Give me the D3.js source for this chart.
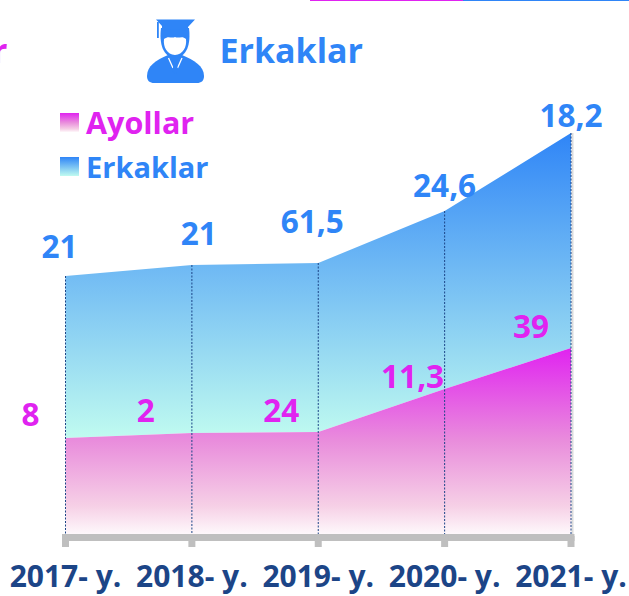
<!DOCTYPE html>
<html><head><meta charset="utf-8">
<script src="https://cdn.jsdelivr.net/npm/d3@7/dist/d3.min.js"></script>
<style>html,body{margin:0;padding:0;background:#fff;overflow:hidden}text{font-family:"Open Sans",sans-serif;font-weight:700}</style>
</head><body><svg id="c" width="629" height="596"></svg>
<script>
const years=["2017- y.","2018- y.","2019- y.","2020- y.","2021- y."];
const ayollarHeight=[96,101,102,145,186];
const erkaklarHeight=[162,168,169,178,215];
const ayollarLabels=["8","2","24","11,3","39"];
const erkaklarLabels=["21","21","61,5","24,6","18,2"];
const pink="#e023f0",blue="#2f85f7",navy="#1c4587";
const svg=d3.select("#c");
const x=d3.scalePoint().domain(years).range([65.5,571]);
const y=d3.scaleLinear().domain([0,401]).range([534,133]);
const defs=svg.append("defs");
function grad(id,stops,y1,y2){const g=defs.append("linearGradient").attr("id",id);
 if(y1!==undefined){g.attr("gradientUnits","userSpaceOnUse").attr("x1",0).attr("x2",0).attr("y1",y1).attr("y2",y2);}else{g.attr("x1",0).attr("x2",0).attr("y1",0).attr("y2",1);}
 stops.forEach(s=>g.append("stop").attr("offset",s[0]).attr("stop-color",s[1]));}
const blueStops=[[0,blue],[1,"#c0fbf0"]],pinkStops=[[0,pink],[0.5,"#e98ddc"],[0.85,"#f6d0e6"],[1,"#fef8fb"]];
grad("gb",blueStops,y(401),y(96));
grad("gp",pinkStops,y(186),y(0));
grad("lb",blueStops);grad("lp",pinkStops);
const stacked=years.map((d,i)=>({d,a:ayollarHeight[i],t:ayollarHeight[i]+erkaklarHeight[i]}));
svg.append("path").datum(stacked).attr("fill","url(#gb)").attr("d",d3.area().x(d=>x(d.d)).y0(d=>y(d.a)).y1(d=>y(d.t)));
svg.append("path").datum(stacked).attr("fill","url(#gp)").attr("d",d3.area().x(d=>x(d.d)).y0(y(0)).y1(d=>y(d.a)));
svg.append("line").attr("x1",x(years[4])+1.5).attr("x2",x(years[4])+1.5).attr("y1",y(401)).attr("y2",y(0)).attr("stroke","#dcdcdc").attr("stroke-width",2);
svg.selectAll(".drop").data(stacked).join("line").attr("x1",d=>x(d.d)).attr("x2",d=>x(d.d)).attr("y1",d=>y(d.t)).attr("y2",y(0)+2)
 .attr("stroke",navy).attr("stroke-width",1).attr("stroke-dasharray","2 1.5");
svg.append("line").attr("x1",x(years[0])-3.5).attr("x2",x(years[4])+3.5).attr("y1",537.5).attr("y2",537.5).attr("stroke","#bfbfbf").attr("stroke-width",7);
svg.selectAll(".tk").data(years).join("line").attr("x1",d=>x(d)).attr("x2",d=>x(d)).attr("y1",536).attr("y2",547).attr("stroke","#bfbfbf").attr("stroke-width",7);
svg.selectAll(".yl").data(years).join("text").attr("x",d=>x(d)).attr("y",587).attr("text-anchor","middle").attr("font-size",30).attr("fill",navy).text(d=>d);
const ayDy=[-12,-11,-10,-1,-10],ayDx=[-35,-46,-37,-32,-40];
svg.selectAll(".al").data(stacked).join("text").attr("x",(d,i)=>x(d.d)+ayDx[i]).attr("y",(d,i)=>y(d.a)+ayDy[i]).attr("text-anchor","middle").attr("font-size",31.5).attr("fill",pink).text((d,i)=>ayollarLabels[i]);
const erDy=[-18,-20,-30,-14,-6],erDx=[-6,7,-6,0,0];
svg.selectAll(".el").data(stacked).join("text").attr("x",(d,i)=>x(d.d)+erDx[i]).attr("y",(d,i)=>y(d.t)+erDy[i]).attr("text-anchor","middle").attr("font-size",31.5).attr("fill",blue).text((d,i)=>erkaklarLabels[i]);
[["Ayollar","url(#lp)",pink,113,134,30.5],["Erkaklar","url(#lb)",blue,157,178,29]].forEach(l=>{
 svg.append("rect").attr("x",60).attr("y",l[3]).attr("width",19).attr("height",19).attr("fill",l[1]);
 svg.append("text").attr("x",86).attr("y",l[4]).attr("font-size",l[5]).attr("fill",l[2]).text(l[0]);});
svg.append("text").attr("x",219.5).attr("y",63).attr("font-size",34).attr("fill",blue).text("Erkaklar");
svg.append("text").attr("x",-8).attr("y",63).attr("font-size",34).attr("fill",pink).text("r");
svg.append("rect").attr("x",310).attr("y",-1).attr("width",153).attr("height",2).attr("fill",pink);
svg.append("rect").attr("x",463).attr("y",-1).attr("width",166).attr("height",2).attr("fill",blue);
const ic=svg.append("g");
ic.append("path").attr("fill",blue).attr("d","M147 76 C147 66 156 60 168 55 L182 55 C194 60 204 66 204 76 C204 81 201 83 197 83 L154 83 C150 83 147 81 147 76 Z");
ic.append("path").attr("fill",blue).attr("d","M161 28 C159 44 163 57 175 58 C187 57 191 44 189 28 Z");
ic.append("path").attr("fill","#fff").attr("d","M164 39 C169 35 171 39 175 37 C179 39 182 35 186 39 C187 47 183 54.5 175 55 C167 54.5 163 47 164 39 Z");
ic.append("path").attr("fill",blue).attr("d","M156 19.5 L195 19.5 L188 27 L188 31 C180 29 170 29 162 31 L162 26 Z");
ic.append("rect").attr("fill",blue).attr("x",157).attr("y",22).attr("width",1.8).attr("height",16);
ic.append("path").attr("fill","none").attr("stroke","#fff").attr("stroke-width",1.3).attr("d","M168.5 58 L173 68 M182 58 L177.5 68");
ic.append("path").attr("fill",blue).attr("d","M172 59 L178 59 L176.7 63 L178 71 L175.2 74 L172.5 71 L173.8 63 Z");
</script></body></html>
